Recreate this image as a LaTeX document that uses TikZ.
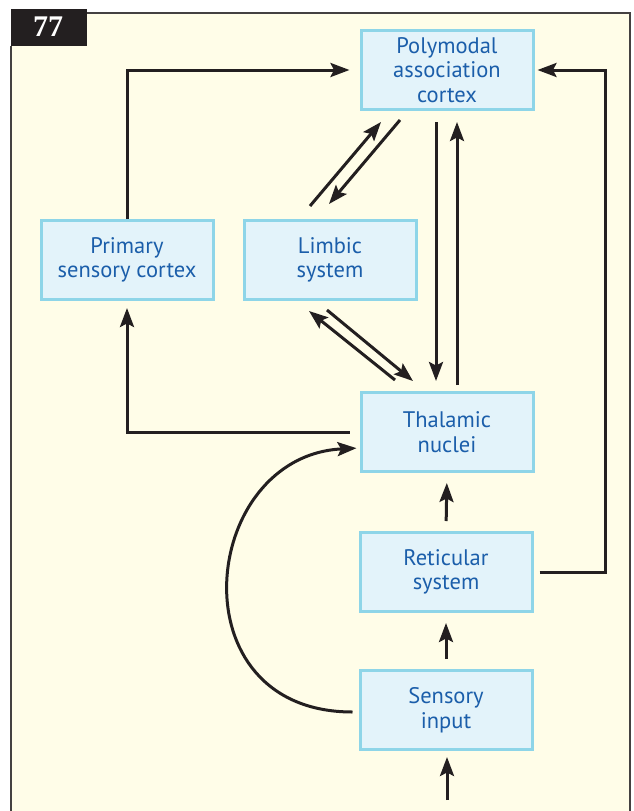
\documentclass[tikz,border=0pt]{standalone}
\usepackage{fontspec}
\setmainfont{PT Sans}
\newfontfamily\tabfont{Liberation Serif}
\usetikzlibrary{arrows.meta,calc}
\definecolor{cream}{HTML}{FFFDE8}
\definecolor{boxfill}{HTML}{E3F3FA}
\definecolor{boxline}{HTML}{8ED5E8}
\definecolor{boxtext}{HTML}{1B5EAA}
\definecolor{ink}{HTML}{231F20}
\begin{document}
\begin{tikzpicture}[
        x=1pt, y=-1pt,
        font=\fontsize{22.5}{24.5}\selectfont,
        area/.style={rectangle, draw=boxline, fill=boxfill, line width=3pt, minimum width=172pt, minimum height=79pt, align=center, text=boxtext, inner sep=2pt},
        arrow/.style={-{Stealth[length=19pt, width=14pt, inset=3.5pt]}, line width=3pt, draw=ink}
    ]
    \useasboundingbox (0,0) rectangle (633,811);
    \fill[white] (0,0) rectangle (633,811);
    \fill[cream] (11,13) rectangle (630,811);
    \draw[line width=1.6pt, draw=ink!85] (11,46) -- (11,811);
    \draw[line width=1.6pt, draw=ink!85] (87,13) -- (630,13) -- (630,811);
    \fill[ink] (11,9) rectangle (87,46);
    \node[text=white, font=\tabfont\bfseries\fontsize{30}{30}\selectfont] (tab) at (48,27) {77};

    \node[area] (poly) at (447,70) {Polymodal\\association\\cortex};
    \node[area] (prim) at (127,260) {Primary\\sensory cortex};
    \node[area] (lim) at (330,260) {Limbic\\system};
    \node[area] (thal) at (447,432) {Thalamic\\nuclei};
    \node[area] (ret) at (446,572) {Reticular\\system};
    \node[area] (sen) at (446,710) {Sensory\\input};
    \coordinate (feed) at (447,800);

    \draw[arrow, shorten >=10pt] (prim.north) |- (poly.west);
    \draw[arrow, shorten >=3pt, shorten <=6pt] (ret.east) -- ++(72,0) |- (poly.east);
    \draw[arrow, shorten <=10pt, shorten >=7pt] (thal.west) -| (prim.south);

    \draw[arrow] ($(lim.north)+(-20,-13)$) -- ($(poly.south)+(-66,11)$);
    \draw[arrow] ($(poly.south)+(-47,9)$) -- ($(lim.north)+(-1,-15)$);
    \draw[arrow] ($(thal.north)+(-52,-11)$) -- ($(lim.south)+(-21,10)$);
    \draw[arrow] ($(lim.south)+(-3,9)$) -- ($(thal.north)+(-34,-10)$);

    \draw[arrow] ($(poly.south)+(-11,11)$) -- ($(thal.north)+(-11,-10)$);
    \draw[arrow] ($(thal.north)+(10,-6)$) -- ($(poly.south)+(10,11)$);

    \draw[arrow, shorten <=10pt, shorten >=10pt] (ret.north) -- (thal.south);
    \draw[arrow, shorten <=10pt, shorten >=10pt] (sen.north) -- (ret.south);
    \draw[arrow, shorten >=6pt] (feed) -- (sen.south -| feed);

    \draw[arrow, shorten <=6pt, shorten >=3pt] ($(sen.west)+(0,2)$) .. controls +(-185,0) and +(-160,8) .. ($(thal.west)+(0,16)$);
\end{tikzpicture}
\end{document}
